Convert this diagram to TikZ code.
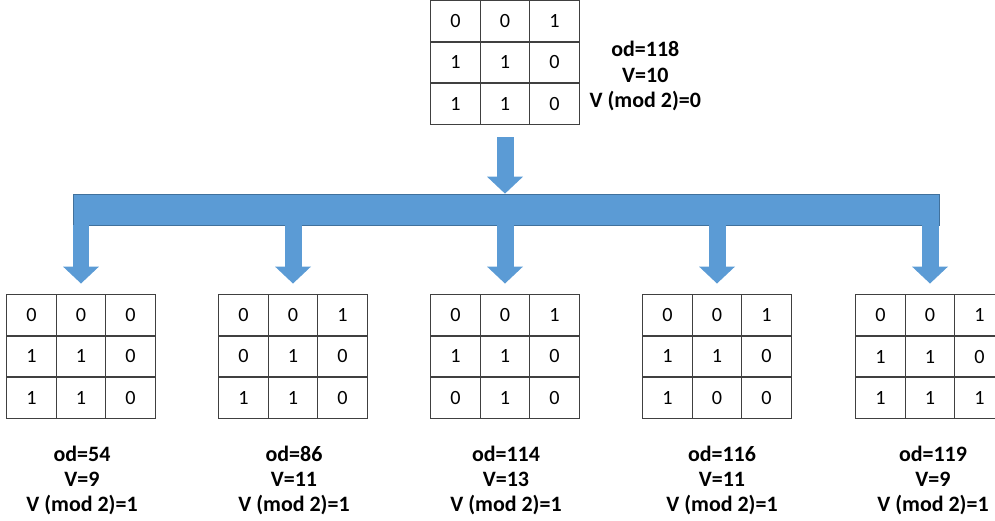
\documentclass[tikz,border=0pt]{standalone}
\usepackage{fontspec}
\setmainfont{Carlito}
\usetikzlibrary{positioning,matrix,calc,arrows.meta}
\definecolor{boxblue}{HTML}{5B9BD5}
\definecolor{boxedge}{HTML}{41719C}
\definecolor{gridline}{HTML}{404040}

\begin{document}
\begin{tikzpicture}[x=0.02cm, y=-0.02cm,
    cell/.style={draw=gridline, line width=0.8pt, minimum width=0.99cm, minimum height=0.825cm, inner sep=0pt, font=\fontsize{11.5}{13}\selectfont},
    bitgrid/.style={matrix of nodes, nodes={cell}, column sep=-0.8pt, row sep=-0.8pt, inner sep=0pt},
    info/.style={align=center, inner sep=0pt, font=\bfseries\fontsize{12.5}{14.4}\selectfont},
    bar/.style={rectangle, fill=boxblue, draw=boxedge, line width=0.4pt, minimum width=17.32cm, minimum height=0.62cm, inner sep=0pt},
    blk/.style={draw=boxblue, line width=0.34cm, -{Triangle[width=0.7cm,length=0.34cm]}}
]
\useasboundingbox (0,0) rectangle (995,521);

\matrix[bitgrid] (top) at (505,62.5) {
0 & 0 & 1 \\
1 & 1 & 0 \\
1 & 1 & 0 \\
};
\node[info] (toplbl) at ($(top.east)+(65,13.5)$) {od=118\\V=10\\V (mod 2)=0};

\node[bar] (bar) at (506,209.5) {};

\matrix[bitgrid] (g1) at (81,356.5) {
0 & 0 & 0 \\
1 & 1 & 0 \\
1 & 1 & 0 \\
};
\matrix[bitgrid] (g2) at (293,356.5) {
0 & 0 & 1 \\
0 & 1 & 0 \\
1 & 1 & 0 \\
};
\matrix[bitgrid] (g3) at (505,356.5) {
0 & 0 & 1 \\
1 & 1 & 0 \\
0 & 1 & 0 \\
};
\matrix[bitgrid] (g4) at (717,356.5) {
0 & 0 & 1 \\
1 & 1 & 0 \\
1 & 0 & 0 \\
};
\matrix[bitgrid] (g5) at (930,356.5) {
0 & 0 & 1 \\
1 & 1 & 0 \\
1 & 1 & 1 \\
};

\node[info] (l1) at ($(g1.south)+(1,61)$) {od=54\\V=9\\V (mod 2)=1};
\node[info] (l2) at ($(g2.south)+(1,61)$) {od=86\\V=11\\V (mod 2)=1};
\node[info] (l3) at ($(g3.south)+(1,61)$) {od=114\\V=13\\V (mod 2)=1};
\node[info] (l4) at ($(g4.south)+(5,61)$) {od=116\\V=11\\V (mod 2)=1};
\node[info] (l5) at ($(g5.south)+(3,61)$) {od=119\\V=9\\V (mod 2)=1};

\draw[blk, shorten <=0.24cm] (top.south) -- (bar.north -| top.south);
\foreach \g in {g1,g2,g3,g4,g5}
  \draw[blk, shorten >=0.2cm] (bar.south -| \g.north) -- (\g.north);

\end{tikzpicture}
\end{document}
